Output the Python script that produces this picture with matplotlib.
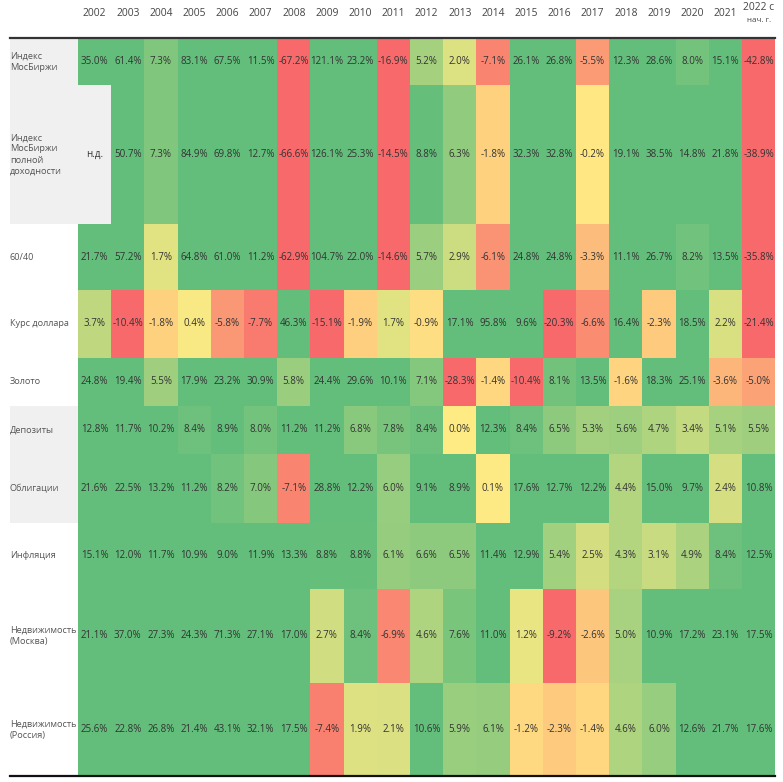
import numpy as np
import matplotlib.pyplot as plt
from matplotlib.colors import LinearSegmentedColormap, Normalize
from matplotlib.patches import Rectangle

plt.rcParams['font.family'] = ['Open Sans', 'DejaVu Sans']

nan = np.nan
years = [str(y) for y in range(2002, 2022)] + ['2022 с']

labels = ['Индекс\nМосБиржи', 'Индекс\nМосБиржи\nполной\nдоходности', '60/40',
          'Курс доллара', 'Золото', 'Депозиты', 'Облигации', 'Инфляция',
          'Недвижимость\n(Москва)', 'Недвижимость\n(Россия)']

moex = [35.0, 61.4, 7.3, 83.1, 67.5, 11.5, -67.2, 121.1, 23.2, -16.9, 5.2, 2.0, -7.1, 26.1, 26.8, -5.5, 12.3, 28.6, 8.0, 15.1, -42.8]
moex_tr = [nan, 50.7, 7.3, 84.9, 69.8, 12.7, -66.6, 126.1, 25.3, -14.5, 8.8, 6.3, -1.8, 32.3, 32.8, -0.2, 19.1, 38.5, 14.8, 21.8, -38.9]
mix_60_40 = [21.7, 57.2, 1.7, 64.8, 61.0, 11.2, -62.9, 104.7, 22.0, -14.6, 5.7, 2.9, -6.1, 24.8, 24.8, -3.3, 11.1, 26.7, 8.2, 13.5, -35.8]
usd = [3.7, -10.4, -1.8, 0.4, -5.8, -7.7, 46.3, -15.1, -1.9, 1.7, -0.9, 17.1, 95.8, 9.6, -20.3, -6.6, 16.4, -2.3, 18.5, 2.2, -21.4]
gold = [24.8, 19.4, 5.5, 17.9, 23.2, 30.9, 5.8, 24.4, 29.6, 10.1, 7.1, -28.3, -1.4, -10.4, 8.1, 13.5, -1.6, 18.3, 25.1, -3.6, -5.0]
deposits = [12.8, 11.7, 10.2, 8.4, 8.9, 8.0, 11.2, 11.2, 6.8, 7.8, 8.4, 0.0, 12.3, 8.4, 6.5, 5.3, 5.6, 4.7, 3.4, 5.1, 5.5]
bonds = [21.6, 22.5, 13.2, 11.2, 8.2, 7.0, -7.1, 28.8, 12.2, 6.0, 9.1, 8.9, 0.1, 17.6, 12.7, 12.2, 4.4, 15.0, 9.7, 2.4, 10.8]
inflation = [15.1, 12.0, 11.7, 10.9, 9.0, 11.9, 13.3, 8.8, 8.8, 6.1, 6.6, 6.5, 11.4, 12.9, 5.4, 2.5, 4.3, 3.1, 4.9, 8.4, 12.5]
realty_msk = [21.1, 37.0, 27.3, 24.3, 71.3, 27.1, 17.0, 2.7, 8.4, -6.9, 4.6, 7.6, 11.0, 1.2, -9.2, -2.6, 5.0, 10.9, 17.2, 23.1, 17.5]
realty_rus = [25.6, 22.8, 26.8, 21.4, 43.1, 32.1, 17.5, -7.4, 1.9, 2.1, 10.6, 5.9, 6.1, -1.2, -2.3, -1.4, 4.6, 6.0, 12.6, 21.7, 17.6]

rows = [moex, moex_tr, mix_60_40, usd, gold, deposits, bonds, inflation, realty_msk, realty_rus]
gray_rows = [0, 1, 5, 6]

# layout in pixels
row_h = [47, 139, 66, 68, 48, 48, 69, 66, 94, 93]
top, left, col_w, lab_x = 38, 78, 33.2, 10

values = np.ma.masked_invalid(np.array(rows, dtype=float))
xedges = left + col_w * np.arange(len(years) + 1)
yedges = top + np.concatenate([[0], np.cumsum(row_h)])

cmap = LinearSegmentedColormap.from_list('excel', [(0, '#F8696B'), (0.5, '#FFEB84'), (1, '#63BE7B')])
cmap.set_bad('#F0F0F0')
norm = Normalize(-9, 9, clip=True)

fig = plt.figure(figsize=(7.83, 7.82), dpi=100)
ax = fig.add_axes([0, 0, 1, 1])
ax.set_xlim(0, 783)
ax.set_ylim(782, 0)
ax.axis('off')

ax.pcolormesh(xedges, yedges, values, cmap=cmap, norm=norm, edgecolor='none')

# label backgrounds
for i in gray_rows:
    ax.add_patch(Rectangle((lab_x, yedges[i]), left - lab_x, row_h[i], color='#F0F0F0', lw=0, zorder=0))

xc = (xedges[:-1] + xedges[1:]) / 2
yc = (yedges[:-1] + yedges[1:]) / 2
for i, r in enumerate(rows):
    ax.text(lab_x, yc[i], labels[i], ha='left', va='center', fontsize=6.6, color='#555555', linespacing=1.3)
    for j, v in enumerate(r):
        s = 'н.д.' if np.isnan(v) else f'{v:.1f}%'
        ax.text(xc[j], yc[i], s, ha='center', va='center', fontsize=7, color='#333333')

for j, y in enumerate(years):
    ax.text(xc[j], 14 if j < len(years) - 1 else 8, y, ha='center', va='center', fontsize=7.4, color='#444444')
ax.text(xc[-1], 20, 'нач. г.', ha='center', va='center', fontsize=5.8, color='#444444')

ax.plot([lab_x, xedges[-1]], [top, top], color='#333333', lw=1.6)
ax.plot([lab_x, xedges[-1]], [yedges[-1], yedges[-1]], color='#111111', lw=1.6)

fig.savefig('out.png', dpi=100)
